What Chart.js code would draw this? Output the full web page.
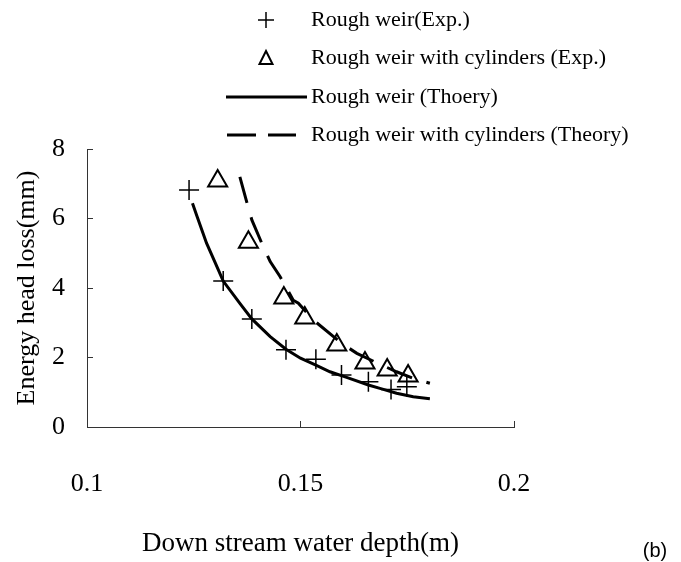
<!DOCTYPE html>
<html>
<head>
<meta charset="utf-8">
<script src="https://cdn.jsdelivr.net/npm/chart.js@4/dist/chart.umd.min.js"></script>
<style>
  html, body { margin: 0; padding: 0; background: #fff; }
</style>
</head>
<body>
<canvas id="headLossChart" width="681" height="562"></canvas>
<script>
// downstream depth (m) vs energy head loss (mm)
const roughExpDepth = [0.1239, 0.1319, 0.1386, 0.1466, 0.1536, 0.1596, 0.1659, 0.1712, 0.1749];
const roughExpLoss  = [6.82, 4.20, 3.11, 2.22, 1.95, 1.50, 1.30, 1.08, 1.16];

const cylExpDepth = [0.1306, 0.1378, 0.1461, 0.1510, 0.1585, 0.1651, 0.1703, 0.1752];
const cylExpLoss  = [7.08, 5.32, 3.71, 3.14, 2.36, 1.84, 1.64, 1.47];

const roughTheoryDepth = [0.1247, 0.1258, 0.1280, 0.1304, 0.1319, 0.1358, 0.1386, 0.1429, 0.1466,
                          0.1500, 0.1536, 0.1569, 0.1608, 0.1659, 0.1686, 0.1725, 0.1764, 0.1803];
const roughTheoryLoss  = [6.44, 6.05, 5.29, 4.62, 4.20, 3.56, 3.11, 2.60, 2.24,
                          1.98, 1.78, 1.59, 1.43, 1.21, 1.11, 0.97, 0.87, 0.81];

const cylTheoryDepth = [0.1358, 0.1374, 0.1386, 0.1411, 0.1429, 0.1452, 0.1483, 0.1495, 0.1530,
                        0.1596, 0.1632, 0.1678, 0.1725, 0.1764, 0.1803];
const cylTheoryLoss  = [7.20, 6.48, 5.96, 5.24, 4.76, 4.33, 3.65, 3.56, 3.08,
                        2.41, 2.12, 1.85, 1.59, 1.40, 1.26];

const xTicks = [0.1, 0.15, 0.2];
const yTicks = [0, 2, 4, 6, 8];

const seriesNames = [
  'Rough weir(Exp.)',
  'Rough weir with cylinders (Exp.)',
  'Rough weir (Thoery)',
  'Rough weir with cylinders (Theory)'
];

const serif = '"Liberation Serif", "DejaVu Serif", serif';
const axisColor = '#333';

function toPoints(xs, ys) {
  return xs.map((x, i) => ({ x: x, y: ys[i] }));
}

// legend stacked above the plot, one entry per row
const stackedLegend = {
  id: 'stackedLegend',
  afterDraw(chart) {
    const ctx = chart.ctx;
    const textX = 311;
    const rows = [20, 58, 97, 135];
    ctx.save();
    ctx.strokeStyle = '#000';
    ctx.fillStyle = '#000';

    // plus marker
    ctx.lineWidth = 1.5;
    ctx.beginPath();
    ctx.moveTo(258, rows[0]); ctx.lineTo(274, rows[0]);
    ctx.moveTo(266, rows[0] - 8); ctx.lineTo(266, rows[0] + 8);
    ctx.stroke();

    // triangle marker
    ctx.lineWidth = 2;
    ctx.beginPath();
    ctx.moveTo(266, rows[1] - 7);
    ctx.lineTo(272.5, rows[1] + 6);
    ctx.lineTo(259.5, rows[1] + 6);
    ctx.closePath();
    ctx.stroke();

    // solid line sample
    ctx.lineWidth = 3;
    ctx.beginPath();
    ctx.moveTo(226, rows[2]); ctx.lineTo(307, rows[2]);
    ctx.stroke();

    // dashed line sample
    ctx.beginPath();
    ctx.moveTo(227, rows[3]); ctx.lineTo(256, rows[3]);
    ctx.moveTo(268, rows[3]); ctx.lineTo(296, rows[3]);
    ctx.stroke();

    ctx.font = '22px ' + serif;
    ctx.textAlign = 'left';
    ctx.textBaseline = 'middle';
    seriesNames.forEach((name, i) => ctx.fillText(name, textX, rows[i]));

    ctx.font = '20px "Liberation Sans", sans-serif';
    ctx.textAlign = 'center';
    ctx.fillText('(b)', 655, 551);
    ctx.restore();
  }
};

new Chart('headLossChart', {
  type: 'scatter',
  data: {
    datasets: [
      {
        label: seriesNames[0],
        data: toPoints(roughExpDepth, roughExpLoss),
        pointStyle: 'cross',
        pointRadius: 10,
        borderColor: '#000',
        borderWidth: 1.5,
        order: 1
      },
      {
        label: seriesNames[1],
        data: toPoints(cylExpDepth, cylExpLoss),
        pointStyle: 'triangle',
        pointRadius: 11,
        borderColor: '#000',
        backgroundColor: 'rgba(0,0,0,0)',
        borderWidth: 2,
        order: 1
      },
      {
        type: 'line',
        label: seriesNames[2],
        data: toPoints(roughTheoryDepth, roughTheoryLoss),
        borderColor: '#000',
        borderWidth: 3,
        pointRadius: 0,
        tension: 0,
        fill: false,
        order: 2
      },
      {
        type: 'line',
        label: seriesNames[3],
        data: toPoints(cylTheoryDepth, cylTheoryLoss),
        borderColor: '#000',
        borderWidth: 3,
        borderDash: [27, 15],
        pointRadius: 0,
        tension: 0,
        fill: false,
        order: 2
      }
    ]
  },
  options: {
    responsive: false,
    animation: false,
    devicePixelRatio: 1,
    layout: { padding: { top: 149, right: 167, left: 0, bottom: 0 } },
    plugins: {
      legend: { display: false },
      tooltip: { enabled: false }
    },
    scales: {
      x: {
        type: 'linear',
        min: 0.1,
        max: 0.2,
        afterFit: s => { s.height = 135; },
        afterBuildTicks: s => { s.ticks = xTicks.map(v => ({ value: v })); },
        grid: { drawOnChartArea: false, tickLength: -6, tickColor: axisColor },
        border: { color: axisColor, width: 1 },
        ticks: {
          padding: 48,
          color: '#000',
          font: { family: serif, size: 26 },
          callback: v => String(v)
        },
        title: {
          display: true,
          text: 'Down stream water depth(m)',
          color: '#000',
          font: { family: serif, size: 27 },
          padding: { top: 0, bottom: 2 }
        }
      },
      y: {
        type: 'linear',
        min: 0,
        max: 8,
        afterFit: s => { s.width = 87; },
        afterBuildTicks: s => { s.ticks = yTicks.map(v => ({ value: v })); },
        grid: { drawOnChartArea: false, tickLength: -6, tickColor: axisColor },
        border: { color: axisColor, width: 1 },
        ticks: {
          padding: 28,
          color: '#000',
          font: { family: serif, size: 26 }
        },
        title: {
          display: true,
          text: 'Energy head loss(mm)',
          color: '#000',
          font: { family: serif, size: 26 },
          padding: { top: 12, bottom: 0 }
        }
      }
    }
  },
  plugins: [stackedLegend]
});
</script>
</body>
</html>
